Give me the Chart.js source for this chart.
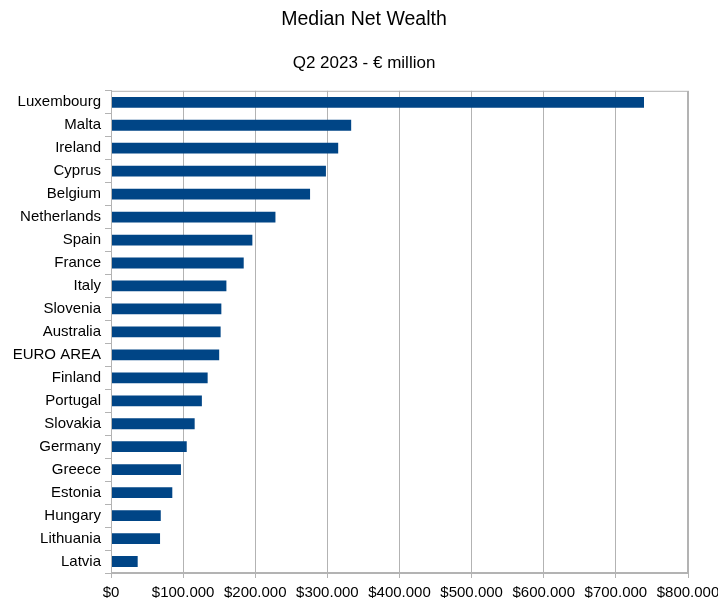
<!DOCTYPE html>
<html>
<head>
<meta charset="utf-8">
<script src="https://cdn.jsdelivr.net/npm/chart.js@4"></script>
<style>
  html, body { margin: 0; padding: 0; background: #fff; }
  #wrap { width: 718px; height: 598px; }
</style>
</head>
<body>
<div id="wrap"><canvas id="wealth_chart"></canvas></div>
<script>
const countries = ['Luxembourg', 'Malta', 'Ireland', 'Cyprus', 'Belgium', 'Netherlands', 'Spain', 'France',
  'Italy', 'Slovenia', 'Australia', 'EURO AREA', 'Finland', 'Portugal', 'Slovakia', 'Germany',
  'Greece', 'Estonia', 'Hungary', 'Lithuania', 'Latvia'];
const medianWealth = [739000, 333000, 315000, 298000, 276000, 228000, 196000, 184000,
  160000, 153000, 152000, 150000, 134000, 126000, 116000, 105000,
  97000, 85000, 69000, 68000, 37000];

const gridGrey = '#b3b3b3';

// box around the plot area (top + right edges)
const plotFrame = {
  id: 'plotFrame',
  afterDraw(chart) {
    const a = chart.chartArea;
    const c = chart.ctx;
    c.save();
    c.strokeStyle = gridGrey;
    c.lineWidth = 1;
    c.strokeRect(a.left + 0.5, a.top + 0.5, a.right - a.left - 1, a.bottom - a.top - 1);
    c.restore();
  }
};

const ctx = document.getElementById('wealth_chart').getContext('2d');

new Chart(ctx, {
  type: 'bar',
  data: {
    labels: countries,
    datasets: [{
      label: 'Median Net Wealth',
      data: medianWealth,
      backgroundColor: '#004586',
      borderWidth: 0,
      barPercentage: 0.47,
      categoryPercentage: 1
    }]
  },
  options: {
    indexAxis: 'y',
    responsive: true,
    maintainAspectRatio: false,
    animation: false,
    layout: { padding: { left: 10, right: 0, bottom: 0 } },
    plugins: {
      legend: { display: false },
      tooltip: { enabled: false },
      title: {
        display: true,
        text: 'Median Net Wealth',
        color: '#000',
        font: { family: 'Liberation Sans', size: 19.5, weight: 'normal' },
        padding: { top: 8, bottom: 22 }
      },
      subtitle: {
        display: true,
        text: 'Q2 2023 - € million',
        color: '#000',
        font: { family: 'Liberation Sans', size: 17 },
        padding: { top: 0, bottom: 17 }
      }
    },
    scales: {
      x: {
        min: 0,
        max: 800000,
        afterFit: s => { s.height = 25; s.paddingLeft = 0; s.paddingRight = 30; },
        ticks: {
          stepSize: 100000,
          color: '#000',
          font: { family: 'Liberation Sans', size: 15 },
          padding: 6,
          maxRotation: 0,
          callback: v => v === 0 ? '$0' : '$' + (v / 1000) + '.000'
        },
        grid: { color: gridGrey, tickLength: 5 },
        border: { color: gridGrey }
      },
      y: {
        afterFit: s => { s.width = 101; s.paddingTop = 0; s.paddingBottom = 0; },
        ticks: {
          color: '#000',
          font: { family: 'Liberation Sans', size: 15 },
          padding: 4,
          autoSkip: false
        },
        grid: { drawOnChartArea: false, color: gridGrey, tickLength: 6, offset: true },
        border: { color: gridGrey }
      }
    }
  },
  plugins: [plotFrame]
});
</script>
</body>
</html>
